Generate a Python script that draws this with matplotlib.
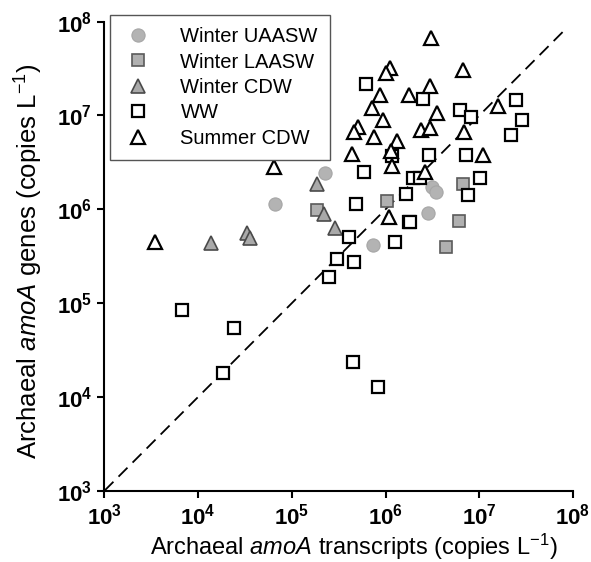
import numpy as np
import matplotlib
matplotlib.use("Agg")
import matplotlib.pyplot as plt
from matplotlib.ticker import LogLocator, FuncFormatter, NullLocator

plt.rcParams['font.family'] = ['Liberation Sans', 'DejaVu Sans']
plt.rcParams['mathtext.fontset'] = 'custom'
plt.rcParams['mathtext.rm'] = 'Liberation Sans'
plt.rcParams['mathtext.it'] = 'Liberation Sans:italic'
plt.rcParams['mathtext.bf'] = 'Liberation Sans:bold'

# transcripts (x) and genes (y), copies per litre
uaasw_x = [6.6e4, 2.27e5, 3.10e6, 3.45e6, 2.86e6, 7.3e5]
uaasw_y = [1.14e6, 2.42e6, 1.71e6, 1.54e6, 9.1e5, 4.16e5]

laasw_x = [1.87e5, 1.03e6, 6.75e6, 6.12e6, 4.41e6]
laasw_y = [9.8e5, 1.24e6, 1.85e6, 7.5e5, 4.0e5]

wcdw_x = [1.84e5, 2.20e5, 2.88e5, 1.36e4, 3.29e4, 3.57e4]
wcdw_y = [1.85e6, 8.9e5, 6.3e5, 4.37e5, 5.6e5, 4.94e5]

ww_x = [6.2e5, 2.51e6, 6.22e6, 8.2e6, 2.46e7, 2.84e7, 2.18e7, 1.17e6, 2.92e6, 7.2e6,
        5.9e5, 1.97e6, 2.31e6, 1.02e7, 1.65e6, 7.5e6, 4.8e5, 1.76e6, 1.84e6, 4.1e5,
        1.26e6, 3.05e5, 4.6e5, 2.51e5, 2.41e4, 6.7e3, 1.85e4, 4.5e5, 8.2e5]
ww_y = [2.17e7, 1.50e7, 1.15e7, 9.6e6, 1.46e7, 8.9e6, 6.2e6, 3.67e6, 3.79e6, 3.75e6,
        2.52e6, 2.14e6, 2.16e6, 2.14e6, 1.44e6, 1.43e6, 1.14e6, 7.4e5, 7.4e5, 5.1e5,
        4.45e5, 2.93e5, 2.76e5, 1.91e5, 5.4e4, 8.4e4, 1.78e4, 2.34e4, 1.27e4]

scdw_x = [3.05e6, 1.11e6, 1.01e6, 6.65e6, 8.8e5, 1.79e6, 2.98e6, 7.1e5, 9.5e5, 3.51e6,
          1.60e7, 5.1e5, 4.6e5, 7.5e5, 1.31e6, 2.37e6, 2.98e6, 6.9e6, 4.4e5, 1.14e6,
          1.16e6, 1.10e7, 2.63e6, 6.4e4, 1.10e6, 3.46e3]
scdw_y = [6.65e7, 3.21e7, 2.84e7, 3.08e7, 1.65e7, 1.67e7, 2.04e7, 1.19e7, 8.9e6, 1.06e7,
          1.26e7, 7.6e6, 6.7e6, 5.9e6, 5.3e6, 7.0e6, 7.3e6, 6.6e6, 3.9e6, 4.2e6,
          2.89e6, 3.79e6, 2.50e6, 2.79e6, 8.3e5, 4.48e5]

one_to_one = [1e3, 8.7e7]

fig = plt.figure(figsize=(5.91, 5.62), dpi=100)
ax = fig.add_axes([0.1768, 0.1269, 0.7927, 0.8345])

ax.plot(one_to_one, one_to_one, color='black', lw=1.3, ls=(0, (7, 4)), zorder=1)

ax.plot(uaasw_x, uaasw_y, 'o', ms=9.5, mfc='#b3b3b3', mec='#a6a6a6', mew=0.8,
        label='Winter UAASW', zorder=3)
ax.plot(laasw_x, laasw_y, 's', ms=8.5, mfc='#b0b0b0', mec='#5a5a5a', mew=1.2,
        label='Winter LAASW', zorder=3)
ax.plot(wcdw_x, wcdw_y, '^', ms=9.5, mfc='#a9a9a9', mec='#4a4a4a', mew=1.2,
        label='Winter CDW', zorder=3)
ax.plot(ww_x, ww_y, 's', ms=8.5, mfc='white', mec='black', mew=1.6,
        label='WW', zorder=4)
ax.plot(scdw_x, scdw_y, '^', ms=9.5, mfc='white', mec='black', mew=1.6,
        label='Summer CDW', zorder=4)

ax.set_xscale('log')
ax.set_yscale('log')
ax.set_xlim(1e3, 1e8)
ax.set_ylim(1e3, 1e8)

fmt = FuncFormatter(lambda v, p: r'$\mathbf{10^{%d}}$' % round(np.log10(v)))
for axis in (ax.xaxis, ax.yaxis):
    axis.set_major_locator(LogLocator(base=10, numticks=10))
    axis.set_minor_locator(NullLocator())
    axis.set_major_formatter(fmt)

ax.spines['top'].set_visible(False)
ax.spines['right'].set_visible(False)
ax.spines['left'].set_linewidth(1.5)
ax.spines['bottom'].set_linewidth(1.5)
ax.tick_params(direction='out', length=5, width=1.5, labelsize=16, pad=4)

ax.set_xlabel(r'Archaeal $\it{amoA}$ transcripts (copies L$^{-1}$)', fontsize=17)
ax.set_ylabel(r'Archaeal $\it{amoA}$ genes (copies L$^{-1}$)', fontsize=18.5)
ax.xaxis.set_label_coords(0.532, -0.088)
ax.yaxis.set_label_coords(-0.128, 0.489)

leg = ax.legend(loc='upper left', bbox_to_anchor=(110 / 591, 1 - 15 / 562),
                bbox_transform=fig.transFigure, borderaxespad=0, fontsize=14.5,
                frameon=True, fancybox=False, framealpha=1, edgecolor='#555555',
                labelspacing=0.32, handlelength=1.6, handletextpad=1.3,
                borderpad=0.6)
leg.get_frame().set_linewidth(1.0)

fig.savefig('out.png', dpi=100)
